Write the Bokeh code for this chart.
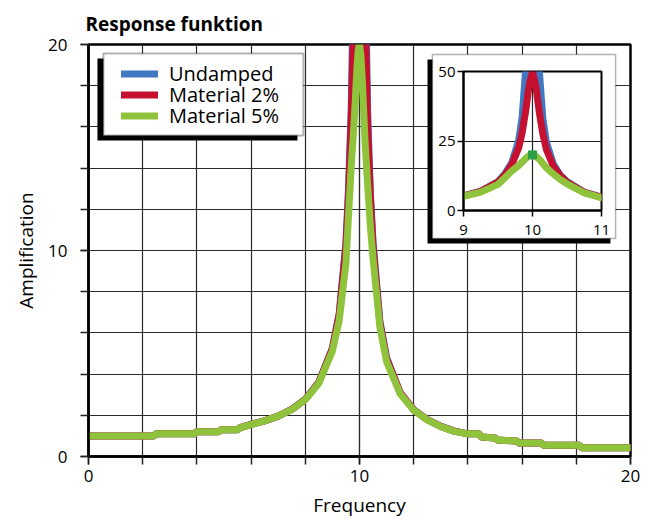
import numpy as np
from bokeh.plotting import figure
from bokeh.models import (FixedTicker, Legend, LegendItem, BoxAnnotation, Range1d,
                          ColumnDataSource)
from bokeh.layouts import column
from bokeh.embed import file_html
from bokeh.resources import INLINE

FONT = "Open Sans"

# ---------------- data ----------------
freq = [0, 2.4, 2.5, 3.9, 4.0, 4.8, 4.9, 5.5, 5.6, 6.0,
        6.5, 7.0, 7.5, 8.0, 8.5, 9.0, 9.25, 9.5, 9.6, 9.7,
        9.8, 9.85, 9.9, 9.95, 10.0, 10.05, 10.1, 10.15, 10.2, 10.3,
        10.4, 10.5, 10.75, 11.0, 11.5, 12.0, 12.5, 13.0, 13.5, 14.0,
        14.4, 14.5, 15.0, 15.1, 15.8, 15.9, 16.7, 16.8, 18.1, 18.2, 20.0]

undamped = [1.0, 1.0, 1.1, 1.1, 1.2, 1.2, 1.3, 1.3, 1.4, 1.56,
            1.73, 1.96, 2.29, 2.78, 3.61, 5.26, 6.93, 10.4, 13.2, 17.2,
            25.3, 33.6, 50.3, 100.3, float("nan"), 99.7, 49.8, 33.1, 24.8, 16.8,
            12.8, 10.4, 6.6, 4.8, 3.1, 2.27, 1.79, 1.46, 1.23, 1.1,
            1.1, 0.95, 0.9, 0.8, 0.75, 0.65, 0.65, 0.55, 0.55, 0.42, 0.42]

material_2 = [1.0, 1.0, 1.1, 1.1, 1.2, 1.2, 1.3, 1.3, 1.4, 1.56,
              1.73, 1.96, 2.29, 2.77, 3.6, 5.24, 6.87, 10.2, 12.8, 16.5,
              22.6, 28.0, 35.6, 44.9, 50.0, 44.5, 35.1, 27.5, 22.1, 16.0,
              12.6, 10.2, 6.5, 4.74, 3.1, 2.27, 1.79, 1.46, 1.23, 1.1,
              1.1, 0.95, 0.9, 0.8, 0.75, 0.65, 0.65, 0.55, 0.55, 0.42, 0.42]

material_5 = [1.0, 1.0, 1.1, 1.1, 1.2, 1.2, 1.3, 1.3, 1.4, 1.55,
              1.73, 1.96, 2.28, 2.76, 3.56, 5.12, 6.6, 9.4, 11.8, 14.2,
              16.2, 17.4, 18.7, 19.7, 20.0, 19.5, 18.4, 16.9, 15.4, 13.2,
              11.2, 9.6, 6.3, 4.61, 3.05, 2.25, 1.78, 1.45, 1.22, 1.1,
              1.1, 0.95, 0.9, 0.8, 0.75, 0.65, 0.65, 0.55, 0.55, 0.42, 0.42]

series_names = ["Undamped", "Material 2%", "Material 5%"]
x_ticks = [0, 10, 20]
y_ticks = [0, 10, 20]
grid_steps = [0, 2, 4, 6, 8, 10, 12, 14, 16, 18, 20]

inset_x_ticks = [9, 10, 11]
inset_y_ticks = [0, 25, 50]
peak_freq = [10]
peak_amp = [20]

COLORS = ["#4178c2", "#c5102f", "#8fc33b"]

src = ColumnDataSource(dict(
    f=np.array(freq, dtype=float),
    u=np.array(undamped, dtype=float),
    m2=np.array(material_2, dtype=float),
    m5=np.array(material_5, dtype=float),
))

# ---------------- main figure ----------------
p = figure(width=649, height=520, x_range=Range1d(0, 20), y_range=Range1d(0, 20),
           output_backend="svg", toolbar_location=None,
           min_border_left=88, min_border_right=19, min_border_top=44, min_border_bottom=64)
p.background_fill_color = "white"
p.border_fill_color = "white"
p.outline_line_color = "black"
p.outline_line_width = 2.5

p.title.text = "Response funktion"
p.title.text_font = FONT
p.title.text_font_size = "19px"
p.title.text_font_style = "bold"
p.title.text_color = "black"
p.title.align = "left"
p.title.offset = -3
p.title.standoff = 15

for ax, ticks in ((p.xaxis[0], x_ticks), (p.yaxis[0], y_ticks)):
    ax.ticker = FixedTicker(ticks=ticks, minor_ticks=grid_steps)
    ax.axis_line_width = 2.5
    ax.axis_line_color = "black"
    ax.major_tick_out = 8
    ax.major_tick_in = 0
    ax.minor_tick_out = 8
    ax.minor_tick_in = 0
    ax.major_tick_line_width = 1.5
    ax.minor_tick_line_width = 1.5
    ax.major_tick_line_color = "#222"
    ax.minor_tick_line_color = "#222"
    ax.major_label_text_font = FONT
    ax.major_label_text_font_size = "17px"
    ax.major_label_text_color = "black"
    ax.axis_label_text_font = FONT
    ax.axis_label_text_font_size = "19px"
    ax.axis_label_text_font_style = "normal"
    ax.axis_label_text_color = "black"

p.xaxis.axis_label = "Frequency"
p.yaxis.axis_label = "Amplification"
p.xaxis.major_label_standoff = 5
p.xaxis.axis_label_standoff = 7
p.yaxis.major_label_standoff = 13
p.yaxis.axis_label_standoff = 6

for g in (p.xgrid[0], p.ygrid[0]):
    g.grid_line_color = "#2a2a2a"
    g.grid_line_width = 1.2
    g.minor_grid_line_color = "#2a2a2a"
    g.minor_grid_line_width = 1.2

cols = ["u", "m2", "m5"]
renderers = []
for c, col in zip(cols, COLORS):
    r = p.line("f", c, source=src, line_color=col, line_width=7,
               line_cap="round", line_join="round")
    renderers.append(r)

# legend box with drop shadow (positions in data units of the main chart)
p.add_layout(BoxAnnotation(left=0.33, right=7.71, top=19.32, bottom=15.34,
                           fill_color="black", fill_alpha=1.0, line_alpha=0))
p.add_layout(BoxAnnotation(left=0.55, right=7.93, top=19.56, bottom=15.58,
                           fill_color="white", fill_alpha=1.0, line_color="black", line_width=2))

# inset box with drop shadow (positions in data units of the main chart)
p.add_layout(BoxAnnotation(left=12.51, right=19.26, top=19.27, bottom=10.34,
                           fill_color="black", fill_alpha=1.0, line_alpha=0))
p.add_layout(BoxAnnotation(left=12.69, right=19.45, top=19.51, bottom=10.58,
                           fill_color="white", fill_alpha=1.0, line_color="black", line_width=1.5))

# one single-item legend per entry, stacked 21 px apart
legend_offsets = [367, 346, 325]   # screen px from frame bottom
for name, r, vy in zip(series_names, renderers, legend_offsets):
    lg = Legend(items=[LegendItem(label=name, renderers=[r])],
                location=(33, vy), padding=0, margin=0, spacing=0,
                glyph_width=37, glyph_height=31, label_height=31, label_standoff=11,
                label_text_font=FONT, label_text_font_size="20px", label_text_color="black",
                border_line_alpha=0, background_fill_alpha=0)
    p.add_layout(lg)

# ---------------- inset ----------------
inset_styles = {"position": "absolute", "left": "375px", "top": "55px", "z-index": "10"}
p2 = figure(width=245, height=191, x_range=Range1d(9, 11), y_range=Range1d(0, 50),
            output_backend="svg", toolbar_location=None,
            min_border_left=88, min_border_right=19, min_border_top=16, min_border_bottom=36,
            styles=inset_styles)
p2.border_fill_color = None
p2.background_fill_color = "white"
p2.outline_line_color = "black"
p2.outline_line_width = 2
for ax, ticks in ((p2.xaxis[0], inset_x_ticks), (p2.yaxis[0], inset_y_ticks)):
    ax.ticker = FixedTicker(ticks=ticks)
    ax.axis_line_width = 2
    ax.axis_line_color = "black"
    ax.major_tick_out = 6
    ax.major_tick_in = 0
    ax.minor_tick_out = 0
    ax.minor_tick_in = 0
    ax.major_tick_line_width = 1.5
    ax.major_label_text_font = FONT
    ax.major_label_text_font_size = "15px"
    ax.major_label_text_color = "black"
p2.yaxis.major_label_standoff = 2
p2.xaxis.major_label_standoff = 8
for g in (p2.xgrid[0], p2.ygrid[0]):
    g.grid_line_color = "#222"
    g.grid_line_width = 1.2

for c, col in zip(cols, COLORS):
    p2.line("f", c, source=src, line_color=col, line_width=7,
            line_cap="round", line_join="round")
p2.scatter(peak_freq, peak_amp, marker="square", size=8, fill_color="#2e9e4a",
           line_color="#2e9e4a")

root = column(p, p2, width=649, height=520)
open("out.html", "w").write(file_html(root, INLINE))
